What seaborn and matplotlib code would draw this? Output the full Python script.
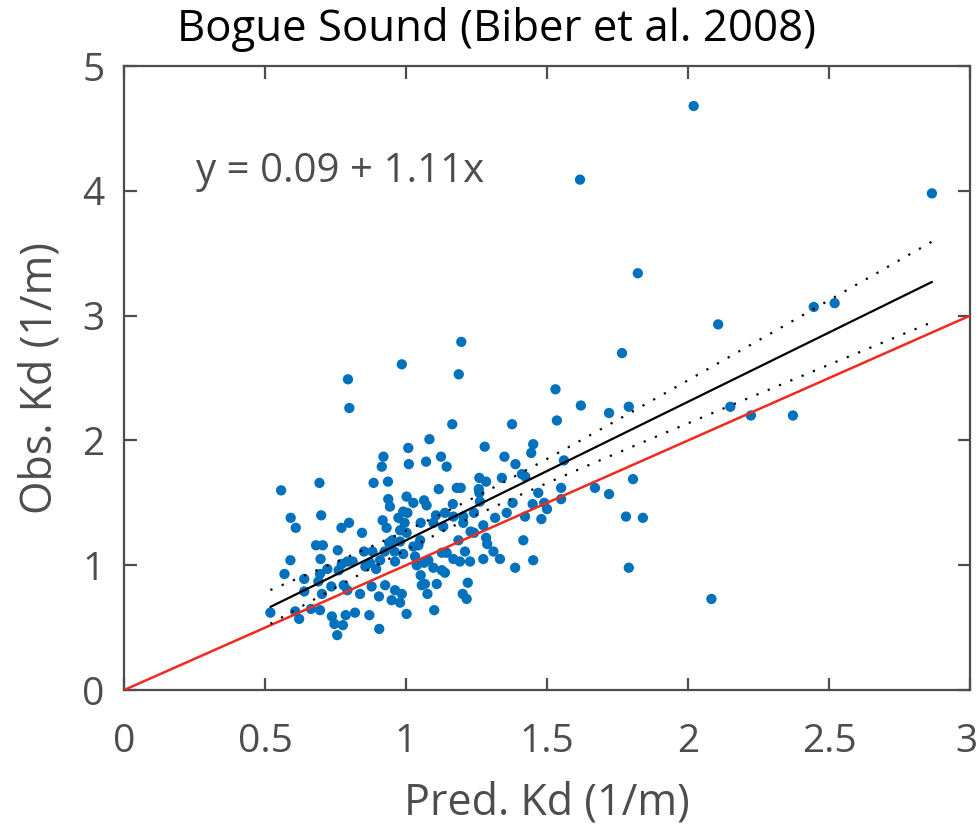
import numpy as np
import pandas as pd
import matplotlib
matplotlib.use("Agg")
import matplotlib.pyplot as plt
import matplotlib.transforms as mtransforms
import seaborn as sns

# ---------------- data ----------------
pred = [
    0.985, 0.794, 0.799, 1.008, 0.920, 0.914, 1.010, 0.693, 0.885, 0.936, 0.557,
    1.196, 1.187, 1.164, 1.376, 1.083, 1.279, 1.451, 1.444, 1.124, 1.071, 1.144,
    1.349, 1.388, 1.411, 1.423, 1.260, 1.284, 1.340, 1.116, 1.180, 1.194, 1.258,
    1.002, 0.937, 0.943, 0.591, 0.699, 0.609, 0.973, 0.990, 0.917, 0.995, 0.771,
    0.798, 0.931, 0.844, 0.979, 1.002, 0.951, 0.940, 0.979, 0.681, 0.705, 0.758,
    0.851, 0.881, 0.924, 0.959, 0.990, 0.697, 0.772, 0.792, 0.811, 0.856, 0.872,
    0.908, 0.894, 0.961, 0.721, 0.590, 0.569, 0.695, 0.761, 0.639, 0.689, 0.735,
    0.639, 0.702, 0.779, 0.792, 0.837, 0.878, 0.904, 0.926, 0.961, 0.985, 0.949,
    0.979, 0.519, 0.607, 0.621, 0.663, 0.695, 0.737, 0.786, 0.819, 0.870, 0.746,
    0.776, 0.756, 0.905, 1.002,
    1.260, 1.026, 1.064, 1.073, 1.166, 1.262, 1.005, 1.106, 1.138, 1.168, 1.203,
    1.241, 1.378, 1.357, 1.469, 1.449, 1.422, 1.316, 1.052, 1.097, 1.132, 1.203,
    1.274, 1.229, 1.241, 1.050, 1.186, 1.284, 1.026, 1.044, 1.288, 1.416, 1.310,
    1.333, 1.209, 1.127, 1.144, 1.032, 1.079, 1.064, 1.168, 1.191, 1.227, 1.274,
    1.451, 1.387, 1.038, 1.097, 1.127, 1.138, 1.052, 1.067, 1.056, 1.109, 1.076,
    1.201, 1.215, 1.219, 1.100,
    1.766, 1.530, 1.620, 1.720, 1.790, 1.535, 1.560, 1.550, 1.490, 1.500, 1.550,
    1.670, 1.720, 1.805, 1.480, 1.780, 1.840, 1.790,
    1.617, 1.822, 2.020, 2.446, 2.520, 2.107, 2.150, 2.223, 2.372, 2.083, 2.865,
]
obs = [
    2.61, 2.49, 2.26, 1.94, 1.87, 1.79, 1.81, 1.66, 1.66, 1.67, 1.60,
    2.79, 2.53, 2.13, 2.13, 2.01, 1.95, 1.97, 1.90, 1.87, 1.83, 1.79,
    1.87, 1.81, 1.73, 1.71, 1.70, 1.67, 1.70, 1.61, 1.62, 1.62, 1.61,
    1.55, 1.53, 1.47, 1.38, 1.40, 1.30, 1.38, 1.43, 1.36, 1.34, 1.30,
    1.34, 1.30, 1.26, 1.28, 1.26, 1.20, 1.18, 1.19, 1.16, 1.16, 1.12,
    1.11, 1.11, 1.11, 1.11, 1.09, 1.05, 1.01, 1.03, 1.03, 0.99, 1.02,
    1.04, 0.97, 1.03, 0.97, 1.04, 0.93, 0.93, 0.96, 0.89, 0.87, 0.83,
    0.79, 0.77, 0.84, 0.80, 0.77, 0.83, 0.75, 0.84, 0.80, 0.77, 0.72,
    0.70, 0.62, 0.63, 0.57, 0.65, 0.64, 0.59, 0.60, 0.62, 0.60, 0.53,
    0.52, 0.44, 0.49, 0.61,
    1.58, 1.50, 1.52, 1.48, 1.49, 1.51, 1.42, 1.40, 1.42, 1.39, 1.39,
    1.42, 1.50, 1.42, 1.58, 1.49, 1.39, 1.38, 1.34, 1.34, 1.31, 1.34,
    1.32, 1.27, 1.26, 1.20, 1.20, 1.22, 1.15, 1.16, 1.17, 1.20, 1.11,
    1.05, 1.11, 1.10, 1.10, 1.07, 1.04, 1.02, 1.05, 1.03, 1.03, 1.05,
    1.04, 0.98, 1.00, 0.98, 0.96, 0.94, 0.92, 0.85, 0.84, 0.85, 0.77,
    0.77, 0.73, 0.86, 0.64,
    2.70, 2.41, 2.28, 2.22, 2.27, 2.16, 1.84, 1.62, 1.50, 1.45, 1.53,
    1.62, 1.57, 1.69, 1.37, 1.39, 1.38, 0.98,
    4.09, 3.34, 4.68, 3.07, 3.10, 2.93, 2.27, 2.20, 2.20, 0.73, 3.98,
]
fit_intercept = 0.09
fit_slope = 1.11
x_ticks = [0, 0.5, 1, 1.5, 2, 2.5, 3]
x_tick_labels = ["0", "0.5", "1", "1.5", "2", "2.5", "3"]
y_ticks = [0, 1, 2, 3, 4, 5]
y_tick_labels = ["0", "1", "2", "3", "4", "5"]
title_text = "Bogue Sound (Biber et al. 2008)"
x_label = "Pred. Kd (1/m)"
y_label = "Obs. Kd (1/m)"
eq_text = "y = 0.09 + 1.11x"

df = pd.DataFrame({"pred": pred, "obs": obs})

# regression line and 95% confidence band of the mean
x = df["pred"].to_numpy()
y = df["obs"].to_numpy()
n = len(x)
resid = y - (fit_intercept + fit_slope * x)
s = np.sqrt(np.sum(resid ** 2) / (n - 2))
sxx = np.sum((x - x.mean()) ** 2)
xs = np.linspace(x.min(), x.max(), 200)
yfit = fit_intercept + fit_slope * xs
half = 1.97 * s * np.sqrt(1.0 / n + (xs - x.mean()) ** 2 / sxx)
lines = pd.DataFrame({"x": xs, "fit": yfit, "lo": yfit - half, "hi": yfit + half})
one2one = pd.DataFrame({"x": [0, 3], "y": [0, 3]})

# ---------------- figure ----------------
sns.set_theme(style="white")
plt.rcParams["font.family"] = ["Open Sans", "DejaVu Sans"]

fig = plt.figure(figsize=(9.79, 8.26), dpi=100)
ax = fig.add_axes([0.1267, 0.1646, 0.8641, 0.7554])

sns.scatterplot(data=df, x="pred", y="obs", ax=ax, color="#0072BD",
                s=55, edgecolor="none", linewidth=0, zorder=3)
sns.lineplot(data=one2one, x="x", y="y", ax=ax, color="#F02A1E", lw=1.8, zorder=4)
sns.lineplot(data=lines, x="x", y="fit", ax=ax, color="black", lw=1.6, zorder=5)
sns.lineplot(data=lines, x="x", y="hi", ax=ax, color="black", lw=1.6,
             linestyle=(0, (1.0, 4.5)), zorder=5)
sns.lineplot(data=lines, x="x", y="lo", ax=ax, color="black", lw=1.6,
             linestyle=(0, (1.0, 4.5)), zorder=5)

ax.set_xlim(0, 3)
ax.set_ylim(0, 5)
ax.set_xticks(x_ticks)
ax.set_xticklabels(x_tick_labels)
ax.set_yticks(y_ticks)
ax.set_yticklabels(y_tick_labels)

grey = "#4D4D4D"
for sp in ax.spines.values():
    sp.set_visible(True)
    sp.set_color(grey)
    sp.set_linewidth(1.6)
ax.tick_params(axis="both", which="both", direction="in", length=9, width=1.6,
               color=grey, labelcolor=grey, labelsize=28,
               top=True, right=True, bottom=True, left=True)
ax.tick_params(axis="x", pad=24)
ax.tick_params(axis="y", pad=14)

# keep the last x tick label inside the figure
last = ax.get_xticklabels()[-1]
last.set_transform(last.get_transform() +
                   mtransforms.ScaledTranslation(-4 / 100, 0, fig.dpi_scale_trans))

ax.set_xlabel(x_label, fontsize=31, color=grey, labelpad=14)
ax.set_ylabel(y_label, fontsize=31, color=grey, labelpad=14)
fig.text(0.507, 0.964, title_text, fontsize=31.5, color="black",
         ha="center", va="center")
ax.text(0.255, 4.15, eq_text, fontsize=29, color=grey, ha="left", va="center")

fig.savefig("out.png", dpi=100)
